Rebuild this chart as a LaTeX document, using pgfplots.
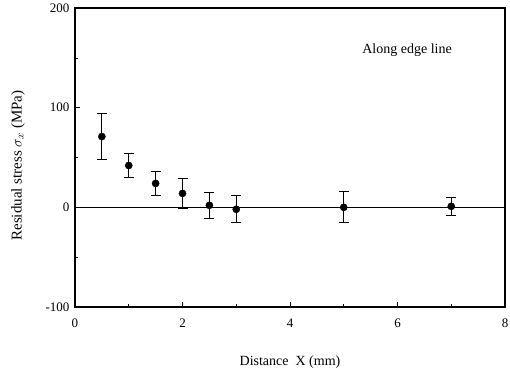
\documentclass[border=0pt]{standalone}
\usepackage{pgfplots}
\pgfplotsset{compat=1.18}
\usepackage{fontspec}
\setmainfont{Liberation Serif}
\begin{document}
\begin{tikzpicture}
\begin{axis}[
  scale only axis,
  width=430pt, height=299pt,
  xmin=0, xmax=8, ymin=-100, ymax=200,
  xtick={0,2,4,6,8}, ytick={-100,0,100,200},
  minor xtick={1,3,5,7}, minor ytick={-50,50,150},
  tick align=inside,
  xtick pos=left, ytick pos=left,
  major tick length=5pt, minor tick length=3pt,
  axis line style={line width=1.4pt},
  every tick/.style={black, line width=0.6pt},
  /pgf/number format/assume math mode=true,
  tick label style={font=\fontsize{13}{15}\selectfont},
  xticklabel style={yshift=-8pt},
  yticklabel style={xshift=-2pt},
  xlabel={Distance\ \ X (mm)},
  ylabel={Residual stress $\sigma_x$ (MPa)},
  label style={font=\fontsize{14}{16}\selectfont},
  xlabel style={yshift=-22pt},
  ylabel style={yshift=14pt, xshift=-8pt, font=\fontsize{15}{17}\selectfont},
  clip=false,
]
\coordinate (sw) at (rel axis cs:0,0);
\coordinate (ne) at (rel axis cs:1,1);
\addplot[black, line width=0.7pt, forget plot] coordinates {(0,0) (8,0)};
\addplot[only marks, mark=*, mark size=3.6pt, black,
  error bars/.cd, y dir=both, y explicit,
  error bar style={line width=0.9pt},
  error mark options={rotate=90, mark size=5pt, line width=0.9pt}]
  coordinates {
  (0.5,71) +- (0,23)
  (1,42) +- (0,12)
  (1.5,24) +- (0,12.5)
  (2,14) +- (0,15)
  (2.5,2) +- (0,13)
  (3,-2) +- (0,13.5)
  (5,0) +- (0,15.5)
  (7,1) +- (0,9)
  };
\node[anchor=west, font=\fontsize{14}{16}\selectfont] at (axis cs:5.28,158) {Along edge line};
\end{axis}
\pgfresetboundingbox
\path[use as bounding box] ([shift={(-75pt,-67pt)}]sw) rectangle ([shift={(5pt,8pt)}]ne);
\end{tikzpicture}
\end{document}
